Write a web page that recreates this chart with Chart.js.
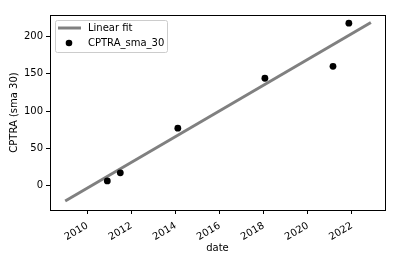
<!DOCTYPE html>
<html>
<head>
<meta charset="utf-8">
<script src="https://cdn.jsdelivr.net/npm/chart.js@4"></script>
<style>
  body { margin: 0; background: #fff; }
  #wrap { width: 405px; height: 262px; }
</style>
</head>
<body>
<div id="wrap"><canvas id="chart"></canvas></div>
<script>
// data (dates as decimal years)
const fitDates = [2008.99, 2022.86];
const fitValues = [-21, 219];
const smaDates = [2010.9, 2011.49, 2014.1, 2018.05, 2021.14, 2021.86];
const smaValues = [6, 17, 77, 144, 160, 218];
const xTicks = [2010, 2012, 2014, 2016, 2018, 2020, 2022];
const yTicks = [0, 50, 100, 150, 200];

const FONT = "'DejaVu Sans', sans-serif";

// box around the plot + legend in the upper left corner
const framePlugin = {
  id: 'frame',
  afterDraw(chart) {
    const ctx = chart.ctx;
    const a = chart.chartArea;
    ctx.save();
    ctx.strokeStyle = '#000';
    ctx.lineWidth = 1;
    ctx.strokeRect(Math.round(a.left) + 0.5, Math.round(a.top) + 0.5,
                   Math.round(a.right - a.left), Math.round(a.bottom - a.top));

    // legend
    const x0 = a.left + 5, y0 = a.top + 5;
    ctx.beginPath();
    ctx.roundRect(x0 + 0.5, y0 + 0.5, 112, 32, 2);
    ctx.fillStyle = 'rgba(255,255,255,0.8)';
    ctx.fill();
    ctx.strokeStyle = '#cccccc';
    ctx.stroke();

    const ds = chart.data.datasets;
    ctx.font = '10px ' + FONT;
    ctx.textBaseline = 'middle';
    ctx.fillStyle = '#000';
    // row 1: line
    ctx.strokeStyle = ds[0].borderColor;
    ctx.lineWidth = 3;
    ctx.beginPath();
    ctx.moveTo(x0 + 3, y0 + 8);
    ctx.lineTo(x0 + 26, y0 + 8);
    ctx.stroke();
    ctx.fillText(ds[0].label, x0 + 33, y0 + 8);
    // row 2: marker
    ctx.beginPath();
    ctx.arc(x0 + 14, y0 + 23, 3.3, 0, Math.PI * 2);
    ctx.fillStyle = ds[1].backgroundColor;
    ctx.fill();
    ctx.fillStyle = '#000';
    ctx.fillText(ds[1].label, x0 + 33, y0 + 23);
    ctx.restore();
  }
};

const ctx = document.getElementById('chart').getContext('2d');
new Chart(ctx, {
  type: 'scatter',
  data: {
    datasets: [{
      label: 'Linear fit',
      type: 'line',
      data: fitDates.map((d, i) => ({ x: d, y: fitValues[i] })),
      borderColor: '#808080',
      borderWidth: 3,
      pointRadius: 0,
      fill: false,
      order: 2
    }, {
      label: 'CPTRA_sma_30',
      data: smaDates.map((d, i) => ({ x: d, y: smaValues[i] })),
      backgroundColor: '#000000',
      borderColor: '#000000',
      pointRadius: 3.4,
      pointBorderWidth: 0,
      order: 1
    }]
  },
  options: {
    responsive: true,
    maintainAspectRatio: false,
    animation: false,
    layout: { padding: { left: 0, top: 15, right: 20, bottom: 0 } },
    plugins: {
      legend: { display: false },
      tooltip: { enabled: false }
    },
    scales: {
      x: {
        type: 'linear',
        min: 2008.3,
        max: 2023.5,
        afterBuildTicks: s => { s.ticks = xTicks.map(v => ({ value: v })); },
        afterFit: s => { s.height = 52; },
        grid: { drawOnChartArea: false, drawTicks: true, tickLength: 4, color: '#000' },
        border: { display: false },
        ticks: {
          minRotation: 30, maxRotation: 30, padding: 6,
          color: '#000', font: { family: FONT, size: 10 },
          callback: v => String(v)
        },
        title: {
          display: true, text: 'date', color: '#000',
          font: { family: FONT, size: 10 },
          padding: { top: 0, bottom: 8 }
        }
      },
      y: {
        min: -33,
        max: 229,
        afterBuildTicks: s => { s.ticks = yTicks.map(v => ({ value: v })); },
        afterFit: s => { s.width = 50; },
        grid: { drawOnChartArea: false, drawTicks: true, tickLength: 4, color: '#000' },
        border: { display: false },
        ticks: { padding: 3, color: '#000', font: { family: FONT, size: 10 } },
        title: {
          display: true, text: 'CPTRA (sma 30)', color: '#000',
          font: { family: FONT, size: 10 },
          padding: { top: 8, bottom: 0 }
        }
      }
    }
  },
  plugins: [framePlugin]
});
</script>
</body>
</html>
